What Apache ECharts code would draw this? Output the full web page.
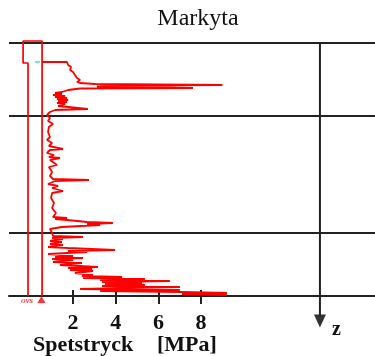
<!DOCTYPE html>
<html>
<head>
<meta charset="utf-8">
<script src="https://cdn.jsdelivr.net/npm/echarts@6/dist/echarts.min.js"></script>
<style>html,body{margin:0;padding:0;background:#fff;}#c{width:375px;height:356px;}</style>
</head>
<body>
<div id="c"></div>
<script>
// Cone resistance profile (MPa) against depth (m)
var depth = [1.9,1.9,2.2,2.4,2.7,2.9,3.2,3.5,3.7,3.9,
  4.0,4.1,4.2,4.25,4.3,4.35,4.4,4.5,4.55,4.6,
  4.7,4.9,5.0,5.1,5.2,5.3,5.4,5.5,5.6,5.7,
  5.8,5.9,6.0,6.1,6.3,6.5,6.6,6.7,6.9,7.2,
  7.5,7.8,8.1,8.4,8.9,9.4,9.7,10.0,10.3,10.6,
  10.7,11.0,11.2,11.4,11.5,11.7,12.2,12.4,12.9,13.3,
  13.6,13.7,13.8,14.1,14.3,14.5,14.8,15.0,15.5,16.0,
  16.5,17.0,17.4,17.5,17.6,17.7,17.9,18.0,18.1,18.2,
  18.4,18.6,19.0,19.3,19.4,19.5,19.6,19.8,19.9,20.1,
  20.2,20.4,20.5,20.7,20.8,20.9,21.1,21.3,21.4,21.5,
  21.6,21.7,21.9,22.0,22.2,22.4,22.5,22.6,22.7,22.8,
  23.0,23.2,23.3,23.4,23.5,23.6,23.7,23.8,23.9,24.0,
  24.1,24.2,24.3,24.4,24.6,24.7,24.8,24.9,25.0,25.1,
  25.2];
var qc = [0.55,1.72,1.77,1.91,1.86,2.0,2.09,2.19,2.33,2.19,
  2.33,3.03,9.0,3.27,5.37,3.12,5.37,7.62,2.33,2.14,
  1.77,1.48,1.16,1.48,1.06,1.63,1.16,1.72,1.25,1.77,
  1.3,1.72,1.25,1.63,1.3,1.39,2.7,1.16,0.92,0.78,
  0.92,0.83,1.06,0.87,0.83,0.92,0.78,1.02,0.87,1.53,
  0.92,0.78,1.11,0.87,1.39,0.92,1.25,0.87,1.02,0.92,
  1.06,2.75,1.16,0.83,1.3,1.02,1.53,1.02,0.97,1.11,
  1.02,1.2,1.06,1.72,1.16,1.72,2.66,3.87,2.66,3.27,
  1.48,0.92,1.02,1.06,2.47,1.02,1.53,0.92,1.48,0.92,
  1.53,0.83,1.77,3.97,1.77,2.66,0.83,2.0,1.16,2.47,
  1.02,2.0,1.06,2.42,1.39,3.17,1.77,2.89,1.86,2.94,
  2.09,2.94,2.42,4.3,2.47,5.37,3.27,6.54,3.36,5.23,
  3.5,5.37,3.36,7.01,2.33,7.01,3.27,7.11,9.21,7.11,
  9.21];
// sounding rod outline
var rodQc = [-0.11,-0.11,-0.34,-0.34,0.55,0.55];
var rodDepth = [25.3,2.0,2.0,-0.2,-0.2,25.3];
// layer boundaries (m)
var layerDepths = [0, 7.3, 19.0];
var xTicks = [2, 4, 6, 8];
var xMin = -1, xMax = 16.15;
var zAxisQc = 13.57;

var serif = '"Liberation Serif","DejaVu Serif",serif';
function pairs(a, b) { return a.map(function (v, i) { return [v, b[i]]; }); }

var series = [];
layerDepths.forEach(function (d) {
  series.push({type:'line', data:[[xMin,d],[xMax,d]], symbol:'none', silent:true,
    lineStyle:{color:'#222', width:2}, clip:false});
});
series.push({type:'line', data:[[zAxisQc,0],[zAxisQc,27.3]], symbol:'none', clip:false,
  lineStyle:{color:'#222', width:2}});
series.push({type:'scatter', data:[[zAxisQc,27.8]], symbol:'triangle', symbolRotate:180,
  symbolSize:[12,13], itemStyle:{color:'#000'}, clip:false});
series.push({type:'line', data:pairs(rodQc, rodDepth), symbol:'none', clip:false,
  lineStyle:{color:'#ff0000', width:1.7}});
series.push({type:'line', data:[[0.22,1.9],[0.45,1.9]], symbol:'none',
  lineStyle:{color:'#33e0e0', width:1.7}});
series.push({type:'line', data:pairs(qc, depth), symbol:'none', clip:false,
  lineStyle:{color:'#ff0000', width:1.8}});
series.push({type:'scatter', data:[[0.52,25.65]], symbol:'triangle', symbolSize:[8,7],
  itemStyle:{color:'#ff0000'}, clip:false});

var chart = echarts.init(document.getElementById('c'), null, {renderer:'canvas'});
chart.setOption({
  animation:false,
  backgroundColor:'#fff',
  title:{text:'Markyta', left:198, top:7, textAlign:'center', padding:0,
    textStyle:{fontFamily:serif, fontSize:24, fontWeight:'normal', color:'#111'}},
  grid:[{left:9, right:0, top:40, bottom:60, containLabel:false, outerBoundsMode:'none'},
        {left:9, right:0, top:286, height:10, containLabel:false, outerBoundsMode:'none'}],
  xAxis:[{type:'value', gridIndex:0, min:xMin, max:xMax, position:'bottom',
      axisLine:{show:true, onZero:false, lineStyle:{color:'#222', width:2}},
      axisTick:{show:true, customValues:xTicks, length:8, lineStyle:{color:'#222', width:2}},
      axisLabel:{show:true, customValues:xTicks, margin:16, fontFamily:serif, fontSize:22,
        fontWeight:'bold', color:'#111'},
      splitLine:{show:false}},
    {type:'value', gridIndex:1, min:xMin, max:xMax, position:'bottom',
      axisLine:{show:false, onZero:false},
      axisTick:{show:true, inside:true, customValues:xTicks, length:6, lineStyle:{color:'#222', width:2}},
      axisLabel:{show:false}, splitLine:{show:false}}],
  yAxis:[{type:'value', gridIndex:0, inverse:true, min:-0.3, max:25.3, axisLine:{show:false},
      axisTick:{show:false}, axisLabel:{show:false}, splitLine:{show:false}},
    {type:'value', gridIndex:1, show:false}],
  graphic:[
    {type:'text', left:33, top:334, style:{text:'Spetstryck', font:'bold 22px ' + serif, fill:'#111'}},
    {type:'text', left:157, top:334, style:{text:'[MPa]', font:'bold 22px ' + serif, fill:'#111'}},
    {type:'text', left:332, top:320, style:{text:'z', font:'bold 20px ' + serif, fill:'#111'}},
    {type:'text', left:21, top:296, style:{text:'ovs', font:'italic 9px ' + serif, fill:'#ff0000'}}
  ],
  series:series
});
</script>
</body>
</html>
